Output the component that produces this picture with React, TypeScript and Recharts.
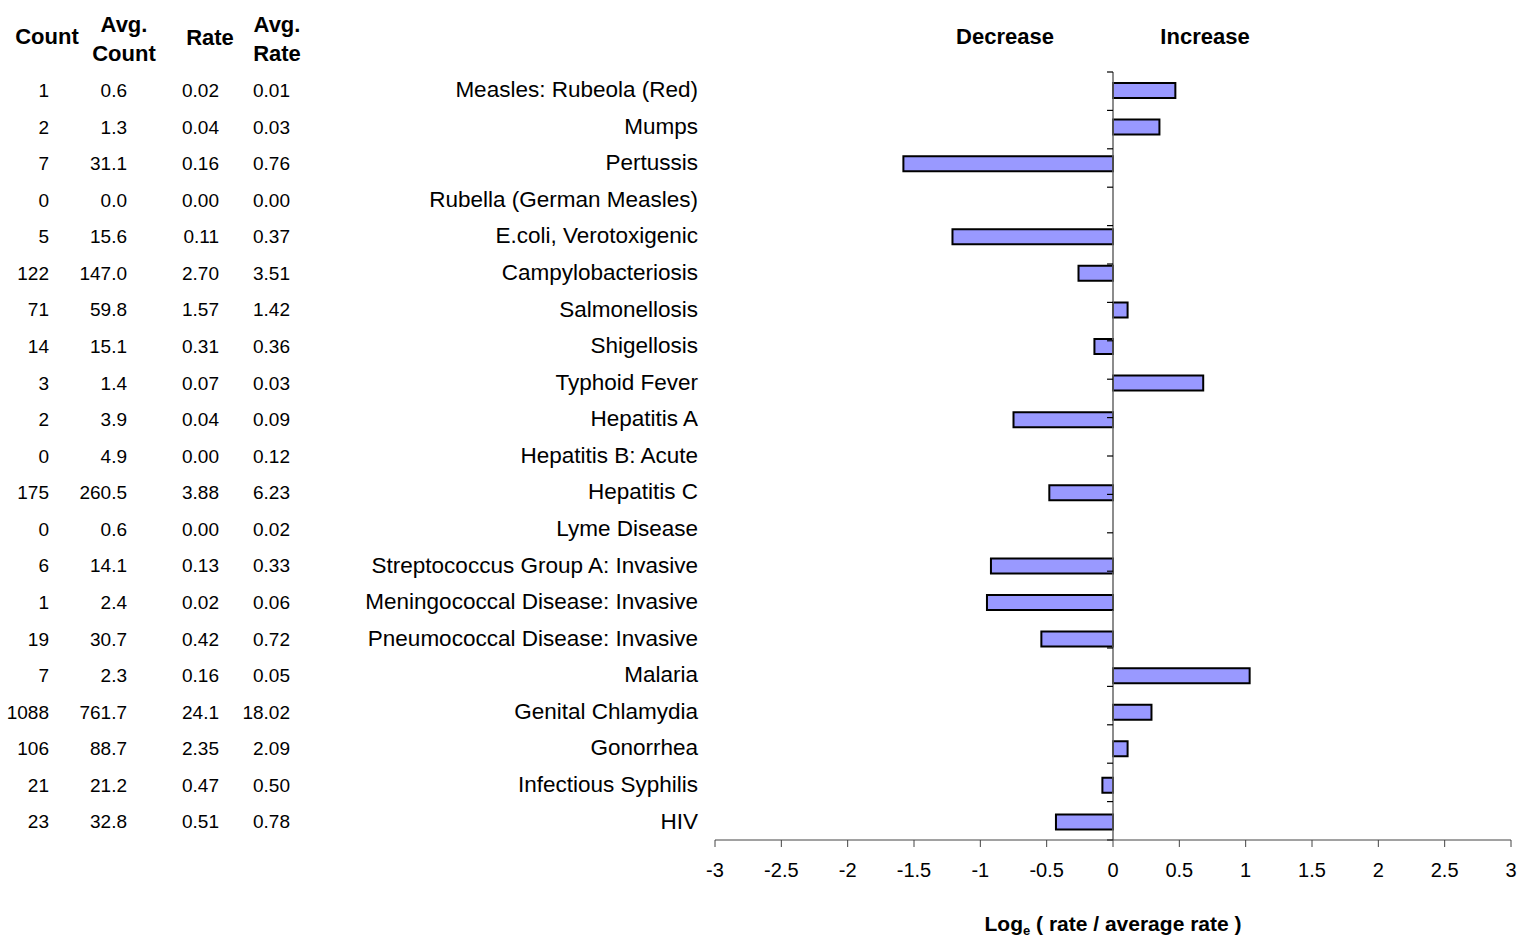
import React from 'react';
import { BarChart, Bar, XAxis, YAxis, ReferenceLine } from 'recharts';

const categories = [
  'Measles: Rubeola (Red)',
  'Mumps',
  'Pertussis',
  'Rubella (German Measles)',
  'E.coli, Verotoxigenic',
  'Campylobacteriosis',
  'Salmonellosis',
  'Shigellosis',
  'Typhoid Fever',
  'Hepatitis A',
  'Hepatitis B: Acute',
  'Hepatitis C',
  'Lyme Disease',
  'Streptococcus Group A: Invasive',
  'Meningococcal Disease: Invasive',
  'Pneumococcal Disease: Invasive',
  'Malaria',
  'Genital Chlamydia',
  'Gonorrhea',
  'Infectious Syphilis',
  'HIV',
];

const logRatio: (number | null)[] = [
  0.47, 0.35, -1.58, null, -1.21, -0.26, 0.11, -0.14, 0.68, -0.75, null,
  -0.48, null, -0.92, -0.95, -0.54, 1.03, 0.29, 0.11, -0.08, -0.43,
];

const counts = ['1', '2', '7', '0', '5', '122', '71', '14', '3', '2', '0', '175', '0', '6', '1', '19', '7', '1088', '106', '21', '23'];
const avgCounts = ['0.6', '1.3', '31.1', '0.0', '15.6', '147.0', '59.8', '15.1', '1.4', '3.9', '4.9', '260.5', '0.6', '14.1', '2.4', '30.7', '2.3', '761.7', '88.7', '21.2', '32.8'];
const rates = ['0.02', '0.04', '0.16', '0.00', '0.11', '2.70', '1.57', '0.31', '0.07', '0.04', '0.00', '3.88', '0.00', '0.13', '0.02', '0.42', '0.16', '24.1', '2.35', '0.47', '0.51'];
const avgRates = ['0.01', '0.03', '0.76', '0.00', '0.37', '3.51', '1.42', '0.36', '0.03', '0.09', '0.12', '6.23', '0.02', '0.33', '0.06', '0.72', '0.05', '18.02', '2.09', '0.50', '0.78'];

const xTicks = [-3, -2.5, -2, -1.5, -1, -0.5, 0, 0.5, 1, 1.5, 2, 2.5, 3];
const boundaries = Array.from({ length: categories.length + 1 }, (_, i) => i);

const data = categories.map((name, i) => ({ name, value: logRatio[i] }));

const FONT = '"Liberation Sans", Arial, Helvetica, sans-serif';

const CategoryTick = (props: any) => {
  const { y, payload } = props;
  const i = categories.indexOf(payload.value);
  const cols: [string[], number][] = [
    [counts, 49],
    [avgCounts, 127],
    [rates, 219],
    [avgRates, 290],
  ];
  return (
    <g fontFamily={FONT} fill="#000">
      <text x={698} y={y - 1} dy="0.35em" textAnchor="end" fontSize={22.5} fill="#000">
        {payload.value}
      </text>
      {cols.map(([arr, cx], k) => (
        <text key={k} x={cx} y={y} dy="0.35em" textAnchor="end" fontSize={19} fill="#000">
          {i >= 0 ? arr[i] : ''}
        </text>
      ))}
    </g>
  );
};

const AxisTitle = (props: any) => {
  const { viewBox } = props;
  const cx = viewBox.x + viewBox.width / 2;
  return (
    <text x={cx} y={931} textAnchor="middle" fontFamily={FONT} fontWeight="bold" fontSize={21} fill="#000">
      Log
      <tspan fontSize={13} dy={4}>e</tspan>
      <tspan dy={-4}> ( rate / average rate )</tspan>
    </text>
  );
};

export default function App() {
  return (
    <div style={{ position: 'absolute', left: 0, top: 0, width: 1520, height: 939, background: '#fff' }}>
      <BarChart
        width={1520}
        height={939}
        data={data}
        layout="vertical"
        margin={{ top: 72, right: 9, bottom: 0, left: 0 }}
        style={{ fontFamily: FONT }}
      >
        <XAxis
          type="number"
          domain={[-3, 3]}
          ticks={xTicks}
          allowDataOverflow
          height={99}
          tickSize={7}
          tickMargin={16}
          stroke="#444"
          tick={{ fontSize: 20, fill: '#000', fontFamily: FONT }}
          label={<AxisTitle />}
        />
        <YAxis
          yAxisId="cat"
          type="category"
          dataKey="name"
          width={715}
          interval={0}
          axisLine={false}
          tickLine={false}
          tick={<CategoryTick />}
        />
        <YAxis yAxisId="b" type="number" domain={[0, categories.length]} hide />
        <ReferenceLine yAxisId="cat" x={0} stroke="#666" strokeWidth={1.5} />
        {boundaries.map((b) => (
          <ReferenceLine
            key={b}
            yAxisId="b"
            segment={[
              { x: -0.045, y: b },
              { x: 0, y: b },
            ]}
            stroke="#000"
            strokeWidth={1.2}
          />
        ))}
        <Bar
          yAxisId="cat"
          dataKey="value"
          barSize={15}
          fill="#9999FF"
          stroke="#000"
          strokeWidth={2}
          isAnimationActive={false}
        />
      </BarChart>
      <svg width={1520} height={70} style={{ position: 'absolute', left: 0, top: 0 }} fontFamily={FONT}>
        <g fontWeight="bold" fontSize={22} fill="#000" textAnchor="middle">
          <text x={47} y={44}>Count</text>
          <text x={124} y={32}>Avg.</text>
          <text x={124} y={61}>Count</text>
          <text x={210} y={45}>Rate</text>
          <text x={277} y={32}>Avg.</text>
          <text x={277} y={61}>Rate</text>
          <text x={1005} y={44}>Decrease</text>
          <text x={1205} y={44}>Increase</text>
        </g>
      </svg>
    </div>
  );
}
